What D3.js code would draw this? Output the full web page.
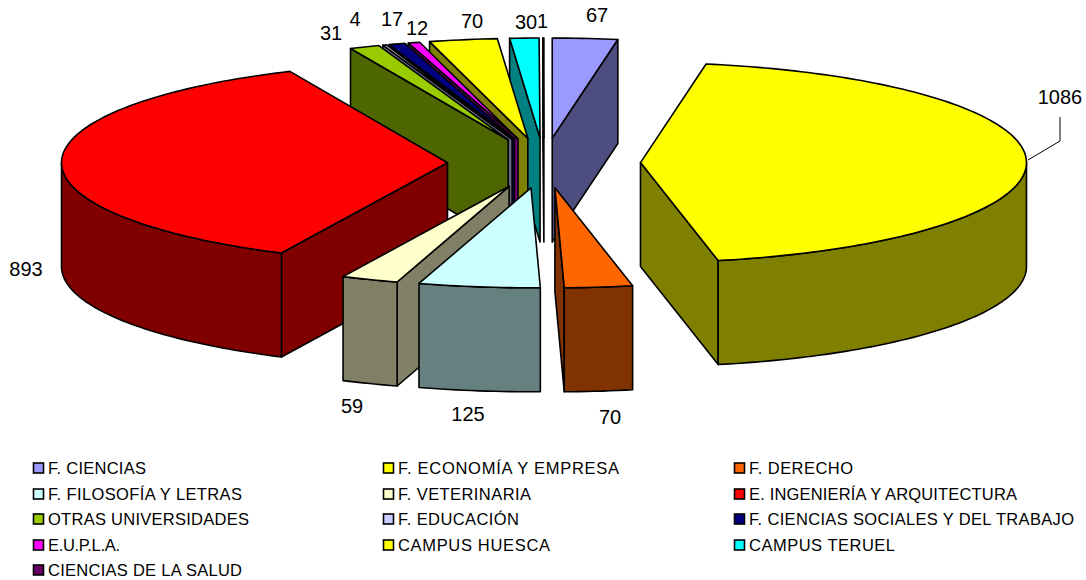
<!DOCTYPE html>
<html><head><meta charset="utf-8">
<script src="https://cdn.jsdelivr.net/npm/d3@7/dist/d3.min.js"></script>
<style>html,body{margin:0;padding:0;background:#fff}svg{display:block}text{font-family:"Liberation Sans",Arial,sans-serif;fill:#000}</style>
</head><body><svg id="c" width="1086" height="580"></svg>
<script>
// Data
const categories = ["F. CIENCIAS","F. ECONOMÍA Y EMPRESA","F. DERECHO","F. FILOSOFÍA Y LETRAS","F. VETERINARIA","E. INGENIERÍA Y ARQUITECTURA","OTRAS UNIVERSIDADES","F. EDUCACIÓN","F. CIENCIAS SOCIALES Y DEL TRABAJO","E.U.P.L.A.","CAMPUS HUESCA","CAMPUS TERUEL","CIENCIAS DE LA SALUD"];
const values = [67,1086,70,125,59,893,31,4,17,12,70,30,1];
const colors = ["#9999FF","#FFFF00","#FF6600","#CCFFFF","#FFFFCC","#FF0000","#99CC00","#CCCCFF","#000080","#FF00FF","#FFFF00","#00FFFF","#660066"];
// Layout (separate from data)
const drawOrder = [0,1,11,12,10,9,8,7,6,5,4,3,2];
const labelPos = [[597,22],[1060,104],[610,424],[468,421],[352,413],[26,276],[331,40],[355,26],[392,26],[417,35],[472,28],[526,29],[542.5,28]];
const legendWidths = [98,221,104,194,133,268,201,121,325,72,152,146,194];
const legendCols = [33,383,734], legendRows = [468,494,519,545,570];

const svg = d3.select("#c");
const cx=544, cy=163, rx=386, ry=100, depth=104, explode=0.25;
const X=d3.scaleLinear().domain([-1,1]).range([-rx,rx]);
const Y=d3.scaleLinear().domain([-1,1]).range([-ry,ry]);
const arcs=d3.pie().sort(null).startAngle(0).endAngle(2*Math.PI)(values);
const line=d3.line().curve(d3.curveLinear);
const half=c=>{const r=d3.rgb(c);return d3.rgb(r.r/2,r.g/2,r.b/2).formatHex();};
const rimAngles=(a,b)=>{const n=Math.max(2,Math.ceil((b-a)/0.02));return d3.range(n+1).map(i=>a+(b-a)*i/n);};

drawOrder.forEach(i=>{
  const s=arcs[i], a0=s.startAngle, a1=s.endAngle, mid=(a0+a1)/2;
  const ax=cx+X(explode*Math.sin(mid)), ay=cy-Y(explode*Math.cos(mid));
  const P=t=>[ax+X(Math.sin(t)), ay-Y(Math.cos(t))];
  const apex=[ax,ay], dark=half(colors[i]);
  const wall=t=>{const p=P(t);return [apex,p,[p[0],p[1]+depth],[ax,ay+depth]];};
  const g=svg.append("g");
  const face=(pts,fill)=>g.append("path").attr("d",line(pts)+"Z").attr("fill",fill)
     .attr("stroke","#000").attr("stroke-width",1.6).attr("stroke-linejoin","round");
  if(Math.sin(a1)>0) face(wall(a1),dark);
  if(Math.sin(a0)<0) face(wall(a0),dark);
  const f0=Math.max(a0,Math.PI/2), f1=Math.min(a1,1.5*Math.PI);
  if(f1>f0){
    const top=rimAngles(f0,f1).map(P);
    face(top.concat(top.slice().reverse().map(p=>[p[0],p[1]+depth])),dark);
  }
  face([apex].concat(rimAngles(a0,a1).map(P)),colors[i]);
});

// Leader line for the largest slice
svg.append("path").attr("d",line([[1028,160],[1060,141],[1060,117]])).attr("fill","none").attr("stroke","#000").attr("stroke-width",1);

// Value labels
svg.append("g").selectAll("text").data(values).join("text")
  .attr("x",(d,i)=>labelPos[i][0]).attr("y",(d,i)=>labelPos[i][1])
  .attr("text-anchor","middle").attr("font-size",20).text(d=>d);

// Legend
const lg=svg.append("g").selectAll("g").data(categories).join("g")
  .attr("transform",(d,i)=>`translate(${legendCols[i%3]},${legendRows[Math.floor(i/3)]})`);
lg.append("rect").attr("x",0.5).attr("y",-5).attr("width",10).attr("height",10)
  .attr("fill",(d,i)=>colors[i]).attr("stroke","#000").attr("stroke-width",1.6);
lg.append("text").attr("x",15).attr("y",5.5).attr("font-size",16.5)
  .attr("textLength",(d,i)=>legendWidths[i]).attr("lengthAdjust","spacing").text(d=>d);
</script></body></html>
